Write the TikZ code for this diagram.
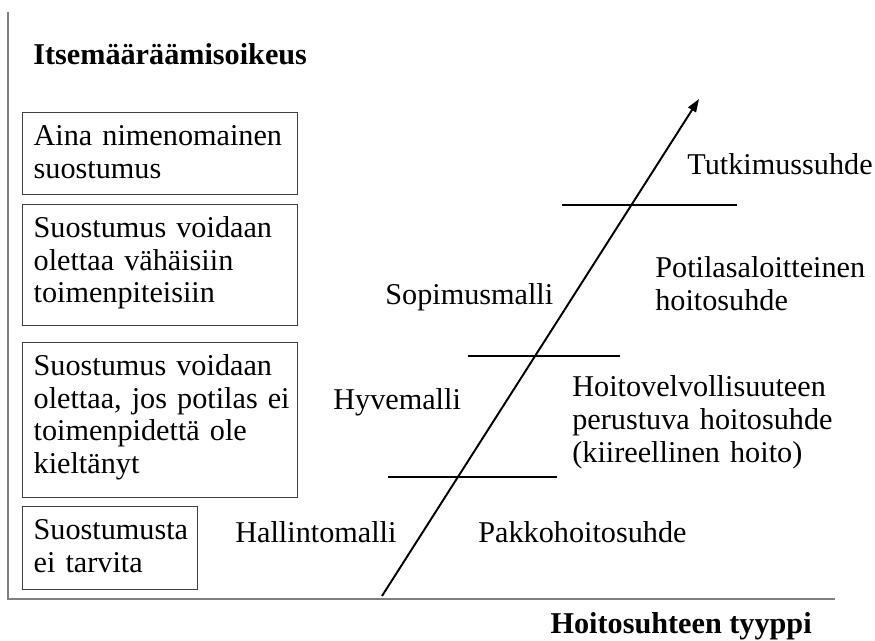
\documentclass[tikz,border=0pt]{standalone}
\usepackage{fontspec}
\setmainfont{Liberation Serif}
\usetikzlibrary{arrows.meta}

\begin{document}
\begin{tikzpicture}[x=0.02cm, y=-0.02cm,
    every node/.style={font=\fontsize{17.2}{18.5}\selectfont, inner sep=0pt},
    consent/.style={draw=black!75, line width=0.75pt, anchor=north west, align=left,
      inner xsep=0.22cm, inner ysep=0pt, text width=5.06cm, text height=0.66cm},
    relation/.style={anchor=base west, align=left, text width=6cm},
    heading/.style={font=\fontsize{17.2}{18.5}\selectfont\bfseries},
    axis/.style={draw=black!50, line width=1.1pt},
    level/.style={line width=0.75pt}]
    \useasboundingbox (0,0) rectangle (875,641);
    % axes
    \coordinate (top) at (8,12);
    \coordinate (origin) at (8,599);
    \coordinate (end) at (835,599);
    \draw[axis] (top) -- (origin) -- (end);
    \node[heading, anchor=base west] (autonomy) at (33,65) {Itsemääräämisoikeus};
    \node[heading, anchor=base east] (type) at (812,633) {Hoitosuhteen tyyppi};
    % consent boxes
    \node[consent, text depth=0.98cm] (always) at (22,112) {Aina nimenomainen\\suostumus};
    \node[consent, text depth=1.76cm] (minor) at (22,204) {Suostumus voidaan\\olettaa vähäisiin\\toimenpiteisiin};
    \node[consent, text depth=2.44cm] (notrefused) at (22,342) {Suostumus voidaan\\\mbox{olettaa, jos potilas ei}\\toimenpidettä ole\\kieltänyt};
    \node[consent, text width=3.06cm, text depth=1.0cm] (none) at (22,506) {Suostumusta\\ei tarvita};
    % models
    \node[relation] (contract) at (385,305) {Sopimusmalli};
    \node[relation] (virtue) at (333,410) {Hyvemalli};
    \node[relation] (admin) at (235,542) {Hallintomalli};
    % relations
    \node[relation] (research) at (687,175) {Tutkimussuhde};
    \node[relation] (initiative) at (655,278) {Potilasaloitteinen\\hoitosuhde};
    \node[relation] (duty) at (572,397) {Hoitovelvollisuuteen\\perustuva hoitosuhde\\(kiireellinen hoito)};
    \node[relation] (coercive) at (478,542) {Pakkohoitosuhde};
    % dividers and arrow
    \coordinate (a1) at (562,205); \coordinate (b1) at (737,205);
    \coordinate (a2) at (468,356); \coordinate (b2) at (620,356);
    \coordinate (a3) at (388,477); \coordinate (b3) at (557,477);
    \draw[level] (a1) -- (b1);
    \draw[level] (a2) -- (b2);
    \draw[level] (a3) -- (b3);
    \coordinate (start) at (382,596);
    \coordinate (tip) at (699,99);
    \draw[line width=1.1pt, -{Triangle[length=0.26cm, width=0.18cm]}] (start) -- (tip);
\end{tikzpicture}
\end{document}
